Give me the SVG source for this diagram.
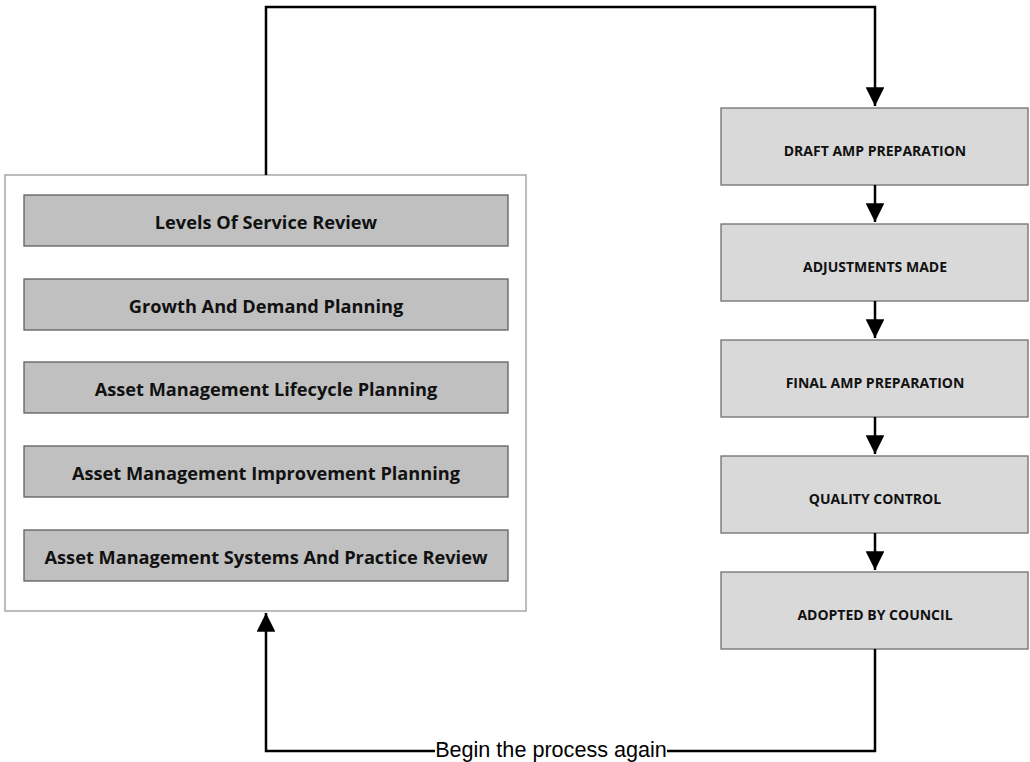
<svg xmlns="http://www.w3.org/2000/svg" width="1030" height="762" viewBox="0 0 1030 762">
<defs>
<marker id="arr" viewBox="0 0 10 10" refX="10" refY="5" markerWidth="7.5" markerHeight="7.5" markerUnits="strokeWidth" orient="auto">
<path d="M0,0 L10,5 L0,10 z" fill="#000"/>
</marker>
<style>
.outer{fill:#fff;stroke:#a6a6a6;stroke-width:1.5}
.lbox{fill:#c0c0c0;stroke:#5f5f5f;stroke-width:1.3}
.rbox{fill:#d9d9d9;stroke:#6f6f6f;stroke-width:1.3}
.lt{font-family:"Open Sans","Liberation Sans",sans-serif;font-weight:bold;font-size:18.2px;fill:#111;text-anchor:middle}
.rt{font-family:"Open Sans","Liberation Sans",sans-serif;font-weight:bold;font-size:14px;fill:#111;text-anchor:middle}
.con{fill:none;stroke:#000;stroke-width:2.5}
.lab{font-family:"Liberation Sans",Arial,sans-serif;font-size:21.6px;fill:#000;text-anchor:middle}
</style>
</defs>
<rect width="1030" height="762" fill="#fff"/>
<g id="outer-group">
<rect class="outer" x="5" y="175" width="521" height="436"/>
</g>
<g id="n-levels"><rect class="lbox" x="24" y="195" width="484" height="51"/><text class="lt" x="266" y="229">Levels Of Service Review</text></g>
<g id="n-growth"><rect class="lbox" x="24" y="279" width="484" height="51"/><text class="lt" x="266" y="313">Growth And Demand Planning</text></g>
<g id="n-lifecycle"><rect class="lbox" x="24" y="362" width="484" height="51"/><text class="lt" x="266" y="396">Asset Management Lifecycle Planning</text></g>
<g id="n-improvement"><rect class="lbox" x="24" y="446" width="484" height="51"/><text class="lt" x="266" y="480">Asset Management Improvement Planning</text></g>
<g id="n-systems"><rect class="lbox" x="24" y="530" width="484" height="51"/><text class="lt" x="266" y="564">Asset Management Systems And Practice Review</text></g>
<g id="n-draft"><rect class="rbox" x="721" y="108" width="307" height="77"/><text class="rt" x="875" y="156">DRAFT AMP PREPARATION</text></g>
<g id="n-adjust"><rect class="rbox" x="721" y="224" width="307" height="77"/><text class="rt" x="875" y="272">ADJUSTMENTS MADE</text></g>
<g id="n-final"><rect class="rbox" x="721" y="340" width="307" height="77"/><text class="rt" x="875" y="388">FINAL AMP PREPARATION</text></g>
<g id="n-quality"><rect class="rbox" x="721" y="456" width="307" height="77"/><text class="rt" x="875" y="504">QUALITY CONTROL</text></g>
<g id="n-adopted"><rect class="rbox" x="721" y="572" width="307" height="77"/><text class="rt" x="875" y="620">ADOPTED BY COUNCIL</text></g>
<g id="connectors">
<path class="con" d="M266,175 V7 H875 V106" marker-end="url(#arr)"/>
<path class="con" d="M875,185 V222" marker-end="url(#arr)"/>
<path class="con" d="M875,301 V338" marker-end="url(#arr)"/>
<path class="con" d="M875,417 V454" marker-end="url(#arr)"/>
<path class="con" d="M875,533 V570" marker-end="url(#arr)"/>
<path class="con" d="M875,649 V751 H266 V613" marker-end="url(#arr)"/>
<rect x="435" y="738" width="232" height="24" fill="#fff"/>
<text class="lab" x="551" y="757">Begin the process again</text>
</g>
</svg>
